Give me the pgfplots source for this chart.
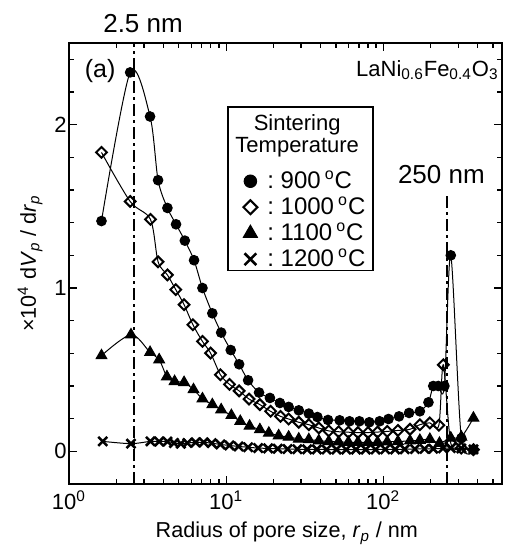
\documentclass[border=0pt]{standalone}
\usepackage{fontspec}
\setmainfont{Liberation Sans}
\usepackage{pgfplots}
\pgfplotsset{compat=1.18}

\begin{document}
\begin{tikzpicture}
\begin{axis}[
  xmode=log, scale only axis, width=216.5pt, height=220.5pt,
  xmin=1, xmax=570, ymin=-0.2, ymax=2.5,
  xtick={1,10,100}, xticklabels={10\textsuperscript{0},10\textsuperscript{1},10\textsuperscript{2}},
  minor xtick={2,3,4,5,6,7,8,9,20,30,40,50,60,70,80,90,200,300,400,500},
  ytick={0,1,2}, yticklabels={0,1,2},
  minor ytick={-0.2,0.2,0.4,0.6,0.8,1.2,1.4,1.6,1.8,2.2,2.4},
  tick align=inside, major tick length=4pt, minor tick length=2.5pt,
  axis line style={line width=0.9pt}, tick style={black, line width=0.6pt},
  every tick label/.append style={font=\fontsize{11}{13}\selectfont},
  yticklabel style={inner xsep=1pt},
  xlabel={Radius of pore size, \textit{r}\textsubscript{\textit{p}} / nm},
  ylabel={×10\textsuperscript{4} d\textit{V}\textsubscript{\textit{p}} / d\textit{r}\textsubscript{\textit{p}}},
  label style={font=\fontsize{10.8}{12}\selectfont},
  xlabel style={at={(axis description cs:0.503,-0.122)}, anchor=base},
  ylabel style={at={(axis description cs:-0.09,0.5)}, anchor=center},
  clip=false,
  reverse legend,
  legend cell align=left,
  legend image code/.code={\draw[#1,only marks,every mark/.append style={scale=1.3}] plot coordinates {(0.1cm,0cm)};},
  legend style={at={(axis description cs:0.388,0.726)}, anchor=north west,
    draw=none, fill=none, font=\fontsize{12}{14}\selectfont, row sep=0pt,
    /tikz/every odd column/.append style={column sep=4pt},
    nodes={inner sep=1pt, text height=9pt, text depth=2pt}},
]
% reference lines
\addplot[black, line width=1.25pt, dash pattern=on 6pt off 2pt on 1.5pt off 2pt, forget plot]
  coordinates {(2.6,-0.2) (2.6,2.5)};
\addplot[black, line width=1.25pt, dash pattern=on 6pt off 2pt on 1.5pt off 2pt, forget plot]
  coordinates {(255,-0.2) (255,1.57)};

% 1200 C
\addplot[black, line width=0.5pt, smooth, mark=x, mark size=3.2pt, mark options={line width=1.3pt}] coordinates {
(1.64,0.061) (2.48,0.047) (3.3,0.061) (3.75,0.06) (4.23,0.06) (4.66,0.051) (5.15,0.047) (5.67,0.051)
(6.4,0.055) (7.2,0.055) (8.1,0.05) (9.2,0.042) (10.5,0.036) (12,0.03) (13.8,0.025) (16,0.02)
(18.5,0.018) (21.3,0.016) (24.6,0.014) (28.4,0.013) (32.8,0.012) (37.8,0.012) (43.6,0.011) (50.4,0.011)
(58.1,0.011) (67.1,0.011) (77.4,0.011) (89.4,0.011) (103,0.012) (119,0.012) (137,0.013) (159,0.014)
(183,0.015) (208,0.016) (240,0.018) (269,0.02) (314,0.018) (375,0.012)};
\addlegendentry{:~1200\,\textsuperscript{o}C}

% 1100 C
\addplot[black, line width=0.5pt, smooth, mark=triangle*, mark size=3.1pt] coordinates {
(1.61,0.586) (2.48,0.714) (3.28,0.606) (3.75,0.561) (4.2,0.457) (4.7,0.428) (5.4,0.422) (6.2,0.378)
(7.07,0.322) (8.17,0.286) (9.3,0.255) (10.8,0.22) (12.3,0.184) (14.1,0.155) (16.4,0.133) (18.7,0.112)
(21.6,0.096) (25,0.088) (29,0.076) (33.6,0.072) (38.9,0.065) (45,0.06) (52,0.058) (60,0.056)
(69,0.055) (80,0.055) (92,0.056) (106,0.058) (124,0.06) (148,0.064) (171,0.068) (198,0.074)
(228,0.05) (269,0.082) (314,0.088) (375,0.204)};
\addlegendentry{:~1100\,\textsuperscript{o}C}

% 1000 C
\addplot[black, line width=0.5pt, smooth, mark=square, mark size=1.9pt, mark options={rotate=45, line width=1pt}] coordinates {
(1.61,1.83) (2.45,1.53) (3.3,1.42) (3.69,1.16) (4.23,1.08) (4.78,0.99) (5.4,0.898) (6.15,0.775)
(7.07,0.673) (7.96,0.602) (9.2,0.469) (10.5,0.41) (12.1,0.37) (14.0,0.32) (16.4,0.286) (19.2,0.245)
(22.2,0.214) (25,0.198) (29,0.178) (33.6,0.163) (38.9,0.143) (45,0.125) (52,0.12) (60,0.117)
(69,0.115) (80,0.115) (92,0.118) (106,0.122) (124,0.128) (148,0.135) (171,0.163) (198,0.174)
(226,0.16) (241,0.53) (269,0.05) (314,0.02) (375,0.01)};
\addlegendentry{:~1000\,\textsuperscript{o}C}

% 900 C
\addplot[black, line width=0.5pt, smooth, mark=*, mark size=2.4pt] coordinates {
(1.61,1.41) (2.45,2.32) (3.28,2.05) (3.69,1.66) (4.23,1.49) (4.80,1.39) (5.46,1.29) (6.25,1.17)
(7.07,1.00) (8.17,0.845) (9.3,0.727) (10.7,0.62) (12.1,0.533) (13.8,0.435) (16.2,0.36) (19.0,0.327)
(22.0,0.296) (25.0,0.272) (29.0,0.251) (33.6,0.231) (38.1,0.21) (44.5,0.192) (52.8,0.19) (61,0.184)
(70.5,0.184) (81.5,0.178) (94.8,0.184) (108,0.198) (126,0.214) (146,0.235) (171,0.245) (194,0.30)
(208,0.40) (224,0.40) (245,0.40) (269,1.20) (314,0.08) (375,0.01)};
\addlegendentry{:~900\,\textsuperscript{o}C}

% legend frame and title
\draw[line width=0.6pt] (axis description cs:0.367,0.855) rectangle (axis description cs:0.702,0.485);
\node[font=\fontsize{11}{9.5}\selectfont, align=center] at (axis description cs:0.527,0.789) {Sintering\\Temperature};

% annotations
\node[font=\fontsize{12.5}{14}\selectfont] at (axis description cs:0.072,0.937) {(a)};
\node[font=\fontsize{11}{12}\selectfont, anchor=east, inner sep=0pt] at (axis description cs:0.993,0.939) {LaNi\textsubscript{0.6}Fe\textsubscript{0.4}O\textsubscript{3}};
\node[font=\fontsize{13}{15}\selectfont] at (axis description cs:0.171,1.045) {2.5 nm};
\node[font=\fontsize{13}{15}\selectfont] at (axis description cs:0.860,0.701) {250 nm};

\coordinate (SW) at (rel axis cs:0,0);
\end{axis}
\pgfresetboundingbox
\path (SW) ++(-34.5pt,-31pt) rectangle ++(252.5pt,273pt);
\end{tikzpicture}
\end{document}
